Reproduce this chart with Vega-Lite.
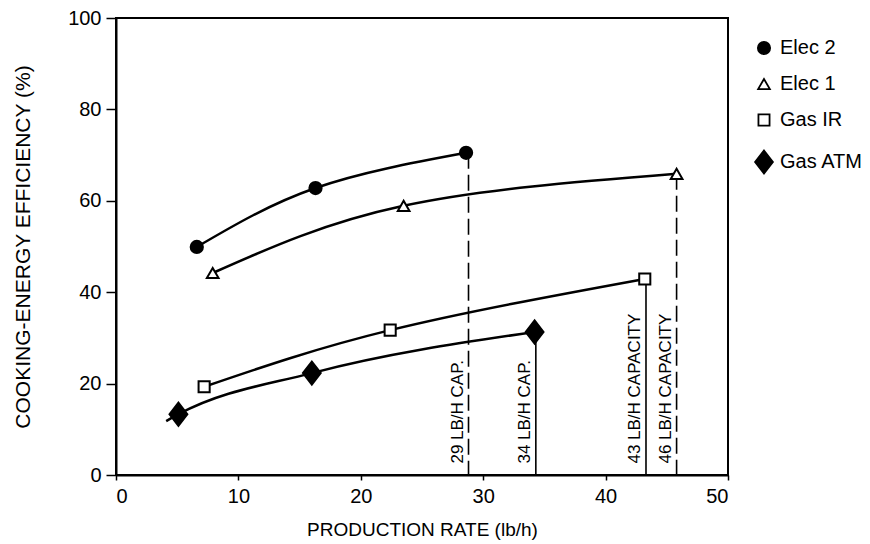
{
  "$schema": "https://vega.github.io/schema/vega-lite/v6.json",
  "width": 612,
  "height": 457,
  "autosize": {"type": "none"},
  "padding": {"left": 116, "top": 18, "right": 142, "bottom": 69},
  "background": "white",
  "config": {
    "font": "Liberation Sans",
    "view": {"stroke": "black", "strokeWidth": 2},
    "axis": {
      "grid": false,
      "domainColor": "black",
      "domainWidth": 2,
      "tickColor": "black",
      "tickWidth": 1.5,
      "labelColor": "black",
      "titleColor": "black",
      "labelFont": "Liberation Sans",
      "titleFont": "Liberation Sans",
      "labelFontSize": 20,
      "titleFontSize": 19,
      "titleFontWeight": "normal"
    },
    "legend": {
      "labelFont": "Liberation Sans",
      "labelFontSize": 20,
      "labelColor": "black"
    }
  },
  "datasets": {
    "points": [
      {"series": "Elec 2", "x": 6.6, "y": 49.9, "marker": true},
      {"series": "Elec 2", "x": 16.3, "y": 62.8, "marker": true},
      {"series": "Elec 2", "x": 28.6, "y": 70.5, "marker": true},
      {"series": "Elec 1", "x": 7.9, "y": 44.2, "marker": true},
      {"series": "Elec 1", "x": 23.5, "y": 58.9, "marker": true},
      {"series": "Elec 1", "x": 45.8, "y": 65.9, "marker": true},
      {"series": "Gas IR", "x": 7.2, "y": 19.3, "marker": true},
      {"series": "Gas IR", "x": 22.4, "y": 31.7, "marker": true},
      {"series": "Gas IR", "x": 43.2, "y": 42.9, "marker": true},
      {"series": "Gas ATM", "x": 4.1, "y": 11.8, "marker": false},
      {"series": "Gas ATM", "x": 5.1, "y": 13.3, "marker": true},
      {"series": "Gas ATM", "x": 16.0, "y": 22.3, "marker": true},
      {"series": "Gas ATM", "x": 34.2, "y": 31.3, "marker": true}
    ],
    "caps": [
      {"x": 28.8, "top": 70.5, "style": "dashed", "label": "29 LB/H CAP."},
      {"x": 34.3, "top": 31.3, "style": "solid", "label": "34 LB/H CAP."},
      {"x": 43.3, "top": 42.9, "style": "solid", "label": "43 LB/H CAPACITY"},
      {"x": 45.8, "top": 65.9, "style": "dashed", "label": "46 LB/H CAPACITY"}
    ]
  },
  "layer": [
    {
      "data": {"name": "caps"},
      "mark": {"type": "rule", "color": "black", "strokeWidth": 1.6},
      "encoding": {
        "x": {"field": "x", "type": "quantitative", "scale": {"domain": [0, 50]}},
        "y": {"field": "top", "type": "quantitative", "scale": {"domain": [0, 100]}},
        "y2": {"datum": 0},
        "strokeDash": {
          "field": "style",
          "type": "nominal",
          "scale": {"domain": ["dashed", "solid"], "range": [[16, 6], [1, 0]]},
          "legend": null
        }
      }
    },
    {
      "data": {"name": "caps"},
      "mark": {"type": "text", "angle": 270, "align": "left", "baseline": "bottom", "dy": -2, "fontSize": 17, "color": "black", "font": "Liberation Sans"},
      "encoding": {
        "x": {"field": "x", "type": "quantitative"},
        "y": {"datum": 2.5},
        "text": {"field": "label"}
      }
    },
    {
      "data": {"name": "points"},
      "transform": [{"filter": "datum.series != 'Gas ATM'"}],
      "mark": {"type": "line", "color": "black", "strokeWidth": 2.5, "interpolate": "natural"},
      "encoding": {
        "x": {"field": "x", "type": "quantitative"},
        "y": {"field": "y", "type": "quantitative"},
        "detail": {"field": "series"}
      }
    },
    {
      "data": {"name": "points"},
      "transform": [{"filter": "datum.series == 'Gas ATM'"}],
      "mark": {"type": "line", "color": "black", "strokeWidth": 2.5, "interpolate": "monotone"},
      "encoding": {
        "x": {"field": "x", "type": "quantitative"},
        "y": {"field": "y", "type": "quantitative"},
        "detail": {"field": "series"}
      }
    },
    {
      "data": {"name": "points"},
      "transform": [{"filter": "datum.marker"}],
      "mark": {"type": "point", "filled": false, "strokeWidth": 2, "opacity": 1},
      "encoding": {
        "x": {
          "field": "x",
          "type": "quantitative",
          "scale": {"domain": [0, 50]},
          "axis": {"values": [0, 10, 20, 30, 40, 50], "tickSize": 5, "title": "PRODUCTION RATE (lb/h)", "titlePadding": 14, "labelPadding": 6}
        },
        "y": {
          "field": "y",
          "type": "quantitative",
          "scale": {"domain": [0, 100]},
          "axis": {"values": [0, 20, 40, 60, 80, 100], "tickSize": 10, "title": "COOKING-ENERGY EFFICIENCY (%)", "titlePadding": 34, "titleFontSize": 21, "labelPadding": 5}
        },
        "shape": {
          "field": "series",
          "type": "nominal",
          "scale": {"domain": ["Elec 2", "Elec 1", "Gas IR", "Gas ATM"], "range": ["circle", "triangle-up", "square", "M0,-2.2L1.7,0L0,2.2L-1.7,0Z"]},
          "title": null,
          "legend": {"orient": "none", "legendX": 638, "legendY": 20, "rowPadding": 16, "symbolStrokeColor": "black", "symbolStrokeWidth": 1.8, "labelOffset": 6}
        },
        "size": {
          "field": "series",
          "type": "nominal",
          "scale": {"domain": ["Elec 2", "Elec 1", "Gas IR", "Gas ATM"], "range": [150, 110, 110, 340]},
          "title": null
        },
        "fill": {
          "field": "series",
          "type": "nominal",
          "scale": {"domain": ["Elec 2", "Elec 1", "Gas IR", "Gas ATM"], "range": ["black", "white", "white", "black"]},
          "title": null
        },
        "stroke": {"value": "black"}
      }
    }
  ]
}
